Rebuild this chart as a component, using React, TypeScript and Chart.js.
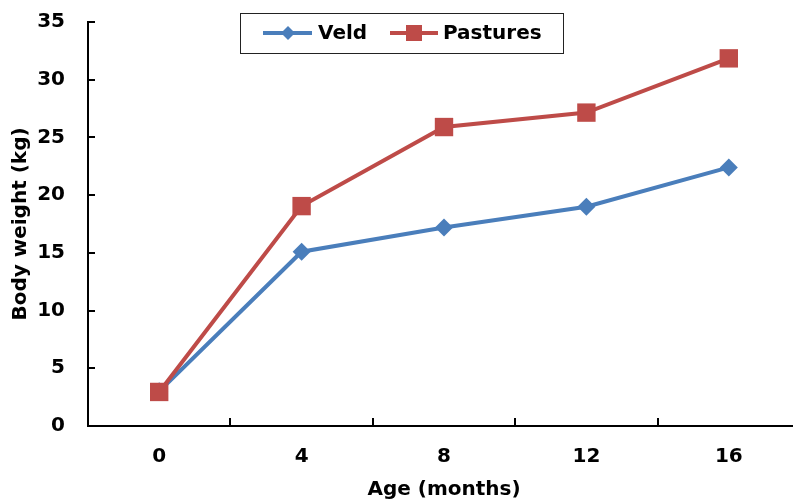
import React, { useEffect, useRef } from "react";
import { Chart, registerables } from "chart.js";

Chart.register(...registerables);

const categories = ["0", "4", "8", "12", "16"];
const veld = [3.0, 15.1, 17.2, 19.0, 22.4];
const pastures = [2.95, 19.05, 25.9, 27.15, 31.85];
const yTicks = [0, 5, 10, 15, 20, 25, 30, 35];

const BLUE = "#4a7ebb";
const RED = "#be4b48";
const FONT = "'DejaVu Sans', 'Liberation Sans', Arial, sans-serif";
const FS = 20;

const innerTicks = {
  id: "innerTicks",
  afterDraw(chart: any) {
    const { ctx, chartArea, scales } = chart;
    const x = scales.x;
    const y = scales.y;
    ctx.save();
    ctx.strokeStyle = "#000";
    ctx.lineWidth = 2;
    ctx.beginPath();
    yTicks.forEach((v) => {
      const py = Math.round(y.getPixelForValue(v));
      ctx.moveTo(chartArea.left, py);
      ctx.lineTo(chartArea.left + 7, py);
    });
    for (let i = 0; i < categories.length; i++) {
      const a = x.getPixelForValue(i);
      const b = i + 1 < categories.length ? x.getPixelForValue(i + 1) : a + (a - x.getPixelForValue(i - 1));
      const px = Math.round((a + b) / 2);
      ctx.moveTo(px, chartArea.bottom);
      ctx.lineTo(px, chartArea.bottom - 8);
    }
    ctx.stroke();
    ctx.restore();
  },
};

const legendBox = {
  id: "legendBox",
  afterDraw(chart: any) {
    const { ctx } = chart;
    ctx.save();
    ctx.fillStyle = "#fff";
    ctx.fillRect(240, 13, 323, 40);
    ctx.strokeStyle = "#222";
    ctx.lineWidth = 1;
    ctx.strokeRect(240.5, 13.5, 323, 40);
    const cy = 33;
    ctx.strokeStyle = BLUE;
    ctx.lineWidth = 4;
    ctx.beginPath();
    ctx.moveTo(263, cy);
    ctx.lineTo(312, cy);
    ctx.stroke();
    ctx.fillStyle = BLUE;
    ctx.beginPath();
    ctx.moveTo(288, cy - 7);
    ctx.lineTo(295, cy);
    ctx.lineTo(288, cy + 7);
    ctx.lineTo(281, cy);
    ctx.closePath();
    ctx.fill();
    ctx.strokeStyle = RED;
    ctx.beginPath();
    ctx.moveTo(390, cy);
    ctx.lineTo(438, cy);
    ctx.stroke();
    ctx.fillStyle = RED;
    ctx.fillRect(406, cy - 8, 16, 16);
    ctx.fillStyle = "#000";
    ctx.font = `bold ${FS}px ${FONT}`;
    ctx.textBaseline = "middle";
    ctx.textAlign = "left";
    ctx.fillText("Veld", 318, cy + 1);
    ctx.fillText("Pastures", 443, cy + 1);
    ctx.restore();
  },
};

export default function App() {
  const ref = useRef<HTMLCanvasElement>(null);
  useEffect(() => {
    const chart = new Chart(ref.current as HTMLCanvasElement, {
      type: "line",
      data: {
        labels: categories,
        datasets: [
          {
            label: "Veld",
            data: veld,
            borderColor: BLUE,
            backgroundColor: BLUE,
            borderWidth: 4,
            pointStyle: "rectRot",
            pointRadius: 9,
            pointBorderWidth: 0,
            tension: 0,
            order: 1,
          },
          {
            label: "Pastures",
            data: pastures,
            borderColor: RED,
            backgroundColor: RED,
            borderWidth: 4,
            pointStyle: "rect",
            pointRadius: 13,
            pointBorderWidth: 0,
            tension: 0,
            order: 0,
          },
        ],
      },
      options: {
        animation: false,
        responsive: false,
        maintainAspectRatio: false,
        layout: { padding: { top: 22, left: 0, right: 0, bottom: 0 } },
        plugins: {
          legend: { display: false },
          tooltip: { enabled: false },
        },
        scales: {
          x: {
            type: "category",
            offset: true,
            grid: { display: false, drawTicks: false },
            border: { display: true, color: "#000", width: 2 },
            ticks: {
              color: "#000",
              padding: 19,
              font: { family: FONT, size: FS, weight: "bold" },
            },
            title: {
              display: true,
              text: "Age (months)",
              color: "#000",
              font: { family: FONT, size: FS, weight: "bold" },
              padding: { top: 0, bottom: 0 },
            },
            afterFit: (s: any) => {
              s.height = 76;
            },
          },
          y: {
            min: 0,
            max: 35,
            grid: { display: false, drawTicks: false },
            border: { display: true, color: "#000", width: 2 },
            ticks: {
              stepSize: 5,
              color: "#000",
              padding: 23,
              font: { family: FONT, size: FS, weight: "bold" },
            },
            title: {
              display: true,
              text: "Body weight (kg)",
              color: "#000",
              font: { family: FONT, size: FS, weight: "bold" },
              padding: { top: 9, bottom: 0 },
            },
            afterFit: (s: any) => {
              s.width = 88;
              s.paddingTop = 0;
              s.paddingBottom = 0;
            },
          },
        },
      },
      plugins: [innerTicks, legendBox],
    } as any);
    return () => chart.destroy();
  }, []);
  return (
    <div style={{ position: "fixed", left: 0, top: 0, width: 793, height: 502, overflow: "hidden", background: "#fff" }}>
      <canvas ref={ref} width={813} height={502} style={{ width: 813, height: 502, display: "block" }} />
    </div>
  );
}
